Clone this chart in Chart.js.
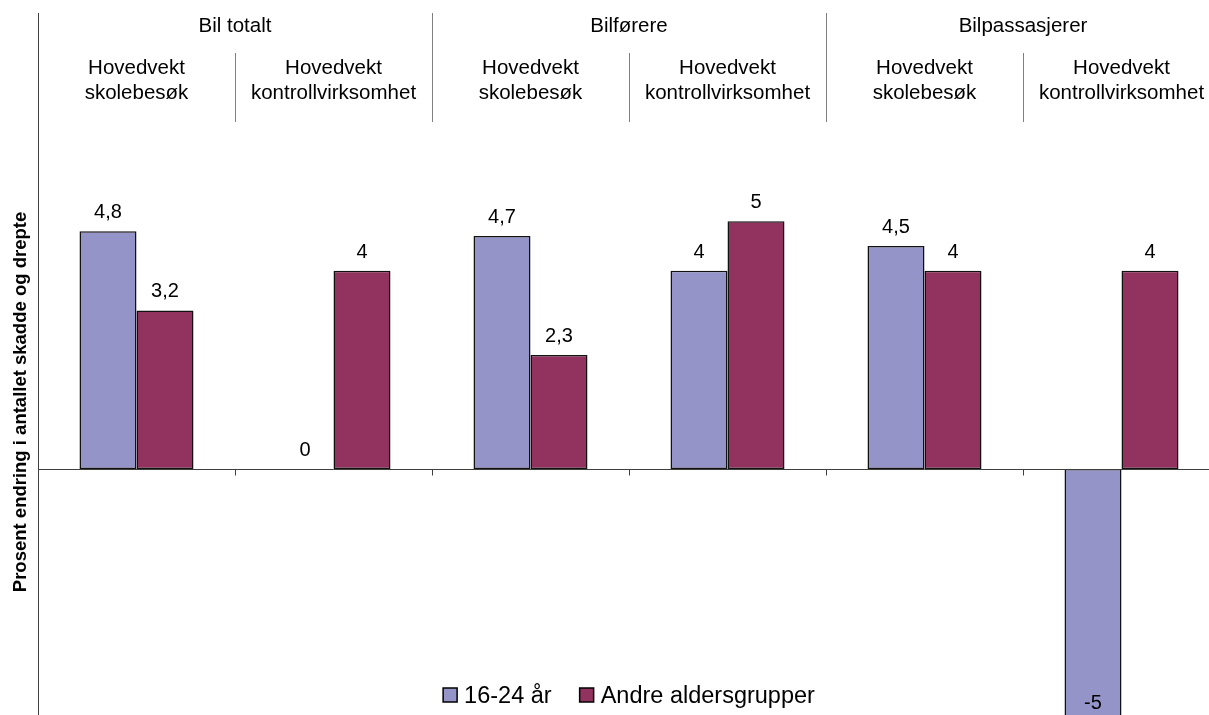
<!DOCTYPE html>
<html>
<head>
<meta charset="utf-8">
<script src="https://cdn.jsdelivr.net/npm/chart.js@4/dist/chart.umd.min.js"></script>
<style>
  html, body { margin: 0; padding: 0; background: #fff; overflow: hidden; }
  #wrap { position: absolute; left: 0; top: 0; }
  canvas { display: block; }
</style>
</head>
<body>
<div id="wrap"><canvas id="c" width="1222" height="720"></canvas></div>
<script>
// Category structure: three road-user groups, each split into two campaign emphases
const groupLabels = ["Bil totalt", "Bilførere", "Bilpassasjerer"];
const subLabels = [
  ["Hovedvekt", "skolebesøk"],
  ["Hovedvekt", "kontrollvirksomhet"],
  ["Hovedvekt", "skolebesøk"],
  ["Hovedvekt", "kontrollvirksomhet"],
  ["Hovedvekt", "skolebesøk"],
  ["Hovedvekt", "kontrollvirksomhet"]
];
const categories = ["Bil totalt – skolebesøk", "Bil totalt – kontroll", "Bilførere – skolebesøk",
                    "Bilførere – kontroll", "Bilpassasjerer – skolebesøk", "Bilpassasjerer – kontroll"];

// Percentage change in number of injured and killed
const seriesNames = ["16-24 år", "Andre aldersgrupper"];
const youngValues = [4.8, 0, 4.7, 4, 4.5, -5];
const otherValues = [3.2, 4, 2.3, 5, 4, 4];

const yTitle = "Prosent endring i antallet skadde og drepte";

const FONT = "'Liberation Sans', Arial, sans-serif";
const BLUE = "#9494C8";
const RED = "#92325E";

function fmt(v) { return String(v).replace(".", ","); }

const decorations = {
  id: "decorations",
  afterDatasetsDraw(chart) {
    const ctx = chart.ctx;
    const area = chart.chartArea;
    const x = chart.scales.x;
    const y = chart.scales.y;
    const zeroY = Math.round(y.getPixelForValue(0)) + 0.5;
    const half = (x.getPixelForValue(1) - x.getPixelForValue(0)) / 2;
    const bound = i => Math.round(x.getPixelForValue(i) - half) + 0.5;

    ctx.save();
    // value axis line
    ctx.strokeStyle = "#3f3f3f";
    ctx.lineWidth = 1;
    ctx.beginPath();
    ctx.moveTo(Math.round(area.left) + 0.5, area.top);
    ctx.lineTo(Math.round(area.left) + 0.5, area.bottom);
    ctx.stroke();
    // zero line with category ticks
    ctx.beginPath();
    ctx.moveTo(area.left, zeroY);
    ctx.lineTo(area.right, zeroY);
    for (let i = 1; i <= categories.length; i++) {
      const bx = bound(i);
      ctx.moveTo(bx, zeroY);
      ctx.lineTo(bx, zeroY + 6);
    }
    ctx.stroke();

    // header separators
    ctx.strokeStyle = "#808080";
    ctx.beginPath();
    for (let g = 1; g < groupLabels.length; g++) {
      const bx = bound(g * 2);
      ctx.moveTo(bx, 13);
      ctx.lineTo(bx, 122);
    }
    for (let g = 0; g < groupLabels.length; g++) {
      const bx = bound(g * 2 + 1);
      ctx.moveTo(bx, 53);
      ctx.lineTo(bx, 122);
    }
    ctx.stroke();

    // header texts
    ctx.fillStyle = "#000";
    ctx.textAlign = "center";
    ctx.textBaseline = "alphabetic";
    ctx.font = "20.5px " + FONT;
    groupLabels.forEach((t, g) => {
      const cx = (x.getPixelForValue(g * 2) + x.getPixelForValue(g * 2 + 1)) / 2;
      ctx.fillText(t, cx, 32);
    });
    subLabels.forEach((lines, i) => {
      const cx = x.getPixelForValue(i);
      lines.forEach((t, k) => ctx.fillText(t, cx, 74 + k * 25));
    });

    // value labels
    ctx.font = "20px " + FONT;
    chart.data.datasets.forEach((ds, di) => {
      const meta = chart.getDatasetMeta(di);
      meta.data.forEach((bar, i) => {
        const v = ds.data[i];
        let ty;
        if (v >= 0) ty = bar.y - 13;
        else ty = Math.min(bar.y + 20, area.bottom - 8);
        ctx.fillText(fmt(v), bar.x, ty);
      });
    });

    // legend
    ctx.font = "23.5px " + FONT;
    ctx.textAlign = "left";
    const box = 14, gap = 7, spacing = 28;
    const widths = chart.data.datasets.map(ds => ctx.measureText(ds.label).width);
    let total = 0;
    widths.forEach((w, i) => { total += box + gap + w + (i ? spacing : 0); });
    let lx = (area.left + area.right) / 2 - total / 2;
    const ly = 695;
    chart.data.datasets.forEach((ds, i) => {
      ctx.fillStyle = ds.backgroundColor;
      ctx.fillRect(lx, ly - box / 2, box, box);
      ctx.strokeStyle = "#000";
      ctx.lineWidth = 1.5;
      ctx.strokeRect(lx, ly - box / 2, box, box);
      ctx.fillStyle = "#000";
      ctx.fillText(ds.label, lx + box + gap, ly + 8);
      lx += box + gap + widths[i] + spacing;
    });

    // value axis title
    ctx.font = "bold 18.5px " + FONT;
    ctx.textAlign = "center";
    ctx.textBaseline = "middle";
    ctx.translate(21, 402);
    ctx.rotate(-Math.PI / 2);
    ctx.fillText(yTitle, 0, 0);
    ctx.restore();
  }
};

new Chart(document.getElementById("c"), {
  type: "bar",
  data: {
    labels: categories,
    datasets: [
      { label: seriesNames[0], data: youngValues, backgroundColor: BLUE,
        borderColor: "#111", borderWidth: 1.5, borderSkipped: false },
      { label: seriesNames[1], data: otherValues, backgroundColor: RED,
        borderColor: "#111", borderWidth: 1.5, borderSkipped: false }
    ]
  },
  options: {
    responsive: false,
    animation: false,
    devicePixelRatio: 1,
    layout: { padding: { left: 38, right: 2, top: 13, bottom: 3 } },
    datasets: { bar: { categoryPercentage: 114 / 197, barPercentage: 1.0 } },
    plugins: { legend: { display: false }, tooltip: { enabled: false } },
    scales: {
      x: { display: false },
      y: { display: false, min: -5, max: 9.2 }
    }
  },
  plugins: [decorations]
});
</script>
</body>
</html>
